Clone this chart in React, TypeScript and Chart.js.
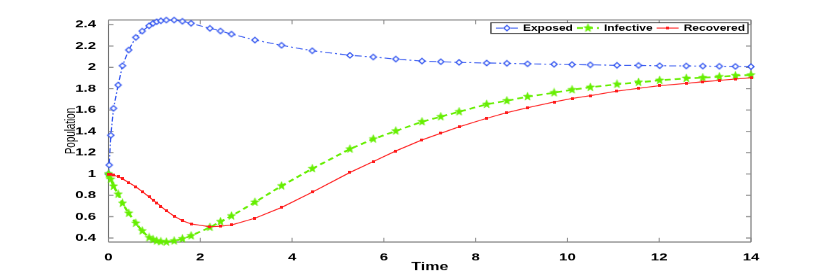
import React, { useEffect, useRef } from "react";
import { Chart, registerables } from "chart.js";

Chart.register(...registerables);

// ---- data ----
const TIME = [0, 0.015, 0.05, 0.11, 0.21, 0.305, 0.44, 0.595, 0.735, 0.885, 0.97, 1.05, 1.14, 1.26, 1.43, 1.61, 1.8, 2.21, 2.44, 2.68, 3.19, 3.77, 4.44, 5.26, 5.77, 6.26, 6.83, 7.24, 7.64, 8.24, 8.68, 9.13, 9.71, 10.1, 10.5, 11.08, 11.55, 12.01, 12.59, 12.95, 13.31, 13.66, 14.0];
const EXPOSED = [1.0, 1.084, 1.363, 1.616, 1.834, 2.015, 2.163, 2.281, 2.34, 2.39, 2.413, 2.428, 2.437, 2.444, 2.444, 2.432, 2.413, 2.366, 2.341, 2.312, 2.256, 2.207, 2.156, 2.113, 2.097, 2.078, 2.059, 2.053, 2.047, 2.041, 2.038, 2.033, 2.029, 2.026, 2.024, 2.019, 2.018, 2.015, 2.013, 2.012, 2.01, 2.009, 2.007];
const INFECTIVE = [1.0, 0.985, 0.95, 0.885, 0.81, 0.725, 0.632, 0.538, 0.466, 0.403, 0.385, 0.372, 0.365, 0.362, 0.372, 0.392, 0.42, 0.5, 0.553, 0.606, 0.735, 0.888, 1.05, 1.234, 1.328, 1.403, 1.49, 1.537, 1.584, 1.653, 1.687, 1.725, 1.762, 1.79, 1.813, 1.841, 1.86, 1.878, 1.897, 1.903, 1.912, 1.922, 1.928];
const RECOVERED = [1.0, 1.0, 0.997, 0.99, 0.975, 0.955, 0.92, 0.88, 0.835, 0.785, 0.755, 0.73, 0.697, 0.655, 0.605, 0.562, 0.532, 0.506, 0.51, 0.522, 0.585, 0.686, 0.83, 1.014, 1.117, 1.216, 1.319, 1.382, 1.443, 1.522, 1.575, 1.622, 1.675, 1.708, 1.734, 1.778, 1.803, 1.828, 1.85, 1.865, 1.878, 1.891, 1.903];
const SERIES_LABELS = ["Exposed", "Infective", "Recovered"];
const X_TICKS = [0, 2, 4, 6, 8, 10, 12, 14];
const Y_TICKS = [0.4, 0.6, 0.8, 1.0, 1.2, 1.4, 1.6, 1.8, 2.0, 2.2, 2.4];
const X_MIN = 0;
const X_MAX = 14;
const Y_MIN = 0.362;
const Y_MAX = 2.444;

// ---- layout / style ----
const SQ = 0.7; // vertical squash of the reference figure
const W = 830;
const H = 390; // logical height, shown at 273px
const FONT = '"Liberation Sans", Arial, Helvetica, sans-serif';
const BLUE = "#3356f0";
const GREEN = "#66ee00";
const RED = "#ff1a1a";

function makeDiamond(color: string) {
  const c = document.createElement("canvas");
  c.width = 10;
  c.height = 12;
  const g = c.getContext("2d")!;
  const cx = 5, cy = 6, hw = 3.1, hh = 2.7 / SQ;
  g.beginPath();
  g.moveTo(cx, cy - hh);
  g.lineTo(cx + hw, cy);
  g.lineTo(cx, cy + hh);
  g.lineTo(cx - hw, cy);
  g.closePath();
  g.fillStyle = "#fff";
  g.fill();
  g.lineWidth = 1.4;
  g.strokeStyle = color;
  g.stroke();
  return c;
}

function makeStar(color: string) {
  const c = document.createElement("canvas");
  c.width = 11;
  c.height = 14;
  const g = c.getContext("2d")!;
  const cx = 5.5, cy = 7, R = 4.4, r = R * 0.42, sy = 1 / SQ;
  g.beginPath();
  for (let i = 0; i < 10; i++) {
    const a = (i * Math.PI) / 5;
    const rr = i % 2 === 0 ? R : r;
    const x = cx + rr * Math.sin(a);
    const y = cy - rr * Math.cos(a) * sy;
    if (i === 0) g.moveTo(x, y);
    else g.lineTo(x, y);
  }
  g.closePath();
  g.fillStyle = color;
  g.fill();
  g.lineWidth = 0.6;
  g.strokeStyle = color;
  g.stroke();
  return c;
}

function makeSquare(color: string) {
  const c = document.createElement("canvas");
  c.width = 3;
  c.height = 4;
  const g = c.getContext("2d")!;
  g.fillStyle = color;
  g.fillRect(0, 0, 3, 4);
  return c;
}

const framePlugin = {
  id: "matlabFrame",
  beforeDatasetsDraw(chart: any) {
    const { ctx, chartArea: a, scales } = chart;
    ctx.save();
    ctx.strokeStyle = "#707070";
    ctx.lineWidth = 1.4;
    ctx.beginPath();
    ctx.moveTo(a.left, a.top);
    ctx.lineTo(a.right, a.top);
    ctx.moveTo(a.left, a.bottom);
    ctx.lineTo(a.right, a.bottom);
    ctx.stroke();
    ctx.lineWidth = 1.1;
    ctx.beginPath();
    ctx.moveTo(a.left, a.top);
    ctx.lineTo(a.left, a.bottom);
    ctx.moveTo(a.right, a.top);
    ctx.lineTo(a.right, a.bottom);
    ctx.stroke();
    ctx.strokeStyle = "#8a8a8a";
    ctx.lineWidth = 1;
    ctx.beginPath();
    scales.x.ticks.forEach((t: any) => {
      const px = scales.x.getPixelForValue(t.value);
      ctx.moveTo(px, a.bottom);
      ctx.lineTo(px, a.bottom - 6);
      ctx.moveTo(px, a.top);
      ctx.lineTo(px, a.top + 6);
    });
    ctx.stroke();
    ctx.lineWidth = 1.4;
    ctx.beginPath();
    scales.y.ticks.forEach((t: any) => {
      const py = scales.y.getPixelForValue(t.value);
      ctx.moveTo(a.left, py);
      ctx.lineTo(a.left + 5, py);
      ctx.moveTo(a.right, py);
      ctx.lineTo(a.right - 5, py);
    });
    ctx.stroke();
    ctx.restore();
  },
  afterDraw(chart: any) {
    const { ctx, chartArea: a } = chart;
    ctx.save();
    ctx.font = `bold 12px ${FONT}`;
    const items = chart.data.datasets.map((ds: any) => ({ ds, w: ctx.measureText(ds.label).width }));
    const padL = 5, lineLen = 22, gapLT = 5, gapTL = 4, padR = 3;
    const total =
      padL +
      items.reduce((s: number, it: any) => s + lineLen + gapLT + it.w, 0) +
      gapTL * (items.length - 1) +
      padR;
    const boxH = 15.2;
    const right = a.right - 3;
    const left = right - total;
    const top = a.top + 3.9;
    ctx.fillStyle = "#fff";
    ctx.fillRect(left, top, total, boxH);
    ctx.strokeStyle = "#333";
    ctx.lineWidth = 1.3;
    ctx.strokeRect(left, top, total, boxH);
    let x = left + padL;
    const cy = top + boxH / 2;
    items.forEach((it: any) => {
      ctx.save();
      ctx.strokeStyle = it.ds.borderColor;
      ctx.lineWidth = it.ds.borderWidth;
      ctx.setLineDash(it.ds.borderDash || []);
      ctx.beginPath();
      ctx.moveTo(x, cy);
      ctx.lineTo(x + lineLen, cy);
      ctx.stroke();
      ctx.restore();
      const img = it.ds.pointStyle;
      ctx.drawImage(img, x + lineLen / 2 - img.width / 2, cy - img.height / 2);
      x += lineLen + gapLT;
      ctx.fillStyle = "#000";
      ctx.textBaseline = "middle";
      ctx.textAlign = "left";
      ctx.fillText(it.ds.label, x, cy + 0.5);
      x += it.w + gapTL;
    });
    ctx.restore();
  },
};

export default function App() {
  const ref = useRef<HTMLCanvasElement | null>(null);

  useEffect(() => {
    const canvas = ref.current;
    if (!canvas) return;
    const toPts = (ys: number[]) => TIME.map((t, i) => ({ x: t, y: ys[i] }));
    const chart = new Chart(canvas, {
      type: "line",
      data: {
        datasets: [
          {
            label: SERIES_LABELS[0],
            data: toPts(EXPOSED),
            borderColor: BLUE,
            backgroundColor: BLUE,
            borderWidth: 1.3,
            borderDash: [7, 3, 2, 3],
            pointStyle: makeDiamond(BLUE) as any,
            pointRadius: 4,
            tension: 0,
            clip: false as any,
            order: 3,
          },
          {
            label: SERIES_LABELS[1],
            data: toPts(INFECTIVE),
            borderColor: GREEN,
            backgroundColor: GREEN,
            borderWidth: 2.4,
            borderDash: [6, 4],
            pointStyle: makeStar(GREEN) as any,
            pointRadius: 4,
            tension: 0,
            clip: false as any,
            order: 2,
          },
          {
            label: SERIES_LABELS[2],
            data: toPts(RECOVERED),
            borderColor: RED,
            backgroundColor: RED,
            borderWidth: 1.3,
            pointStyle: makeSquare(RED) as any,
            pointRadius: 2,
            tension: 0,
            clip: false as any,
            order: 1,
          },
        ],
      },
      options: {
        responsive: false,
        animation: false,
        devicePixelRatio: 1,
        events: [],
        layout: { padding: { left: 0, right: W - 751, top: 20 / SQ, bottom: 0 } },
        plugins: { legend: { display: false }, tooltip: { enabled: false } },
        scales: {
          x: {
            type: "linear",
            min: X_MIN,
            max: X_MAX,
            afterBuildTicks: (s: any) => {
              s.ticks = X_TICKS.map((v) => ({ value: v }));
            },
            afterFit: (s: any) => {
              s.height = H - 242 / SQ;
            },
            grid: { display: false },
            border: { display: false },
            ticks: {
              autoSkip: false,
              maxRotation: 0,
              padding: 5.5,
              color: "#000",
              font: { family: FONT, size: 15, weight: "bold" },
              callback: (v: any) => String(v),
            },
            title: {
              display: true,
              text: "Time",
              color: "#000",
              font: { family: FONT, size: 16, weight: "bold" },
              padding: { top: 0, bottom: -1 },
            },
          },
          y: {
            type: "linear",
            min: Y_MIN,
            max: Y_MAX,
            afterBuildTicks: (s: any) => {
              s.ticks = Y_TICKS.map((v) => ({ value: v }));
            },
            afterFit: (s: any) => {
              s.width = 108.5;
            },
            grid: { display: false },
            border: { display: false },
            ticks: {
              padding: 4.5,
              color: "#000",
              font: { family: FONT, size: 15, weight: "bold" },
              callback: (v: any) => String(Math.round(Number(v) * 10) / 10),
            },
            title: {
              display: true,
              text: "Population",
              color: "#000",
              font: { family: FONT, size: 14 },
              padding: { top: 62.6, bottom: 0 },
            },
          },
        },
      } as any,
      plugins: [framePlugin],
    });
    return () => chart.destroy();
  }, []);

  return (
    <div style={{ position: "fixed", left: 0, top: 0, width: W, height: 273, background: "#fff" }}>
      <canvas ref={ref} width={W} height={H} style={{ width: W + "px", height: "273px", display: "block" }} />
    </div>
  );
}
